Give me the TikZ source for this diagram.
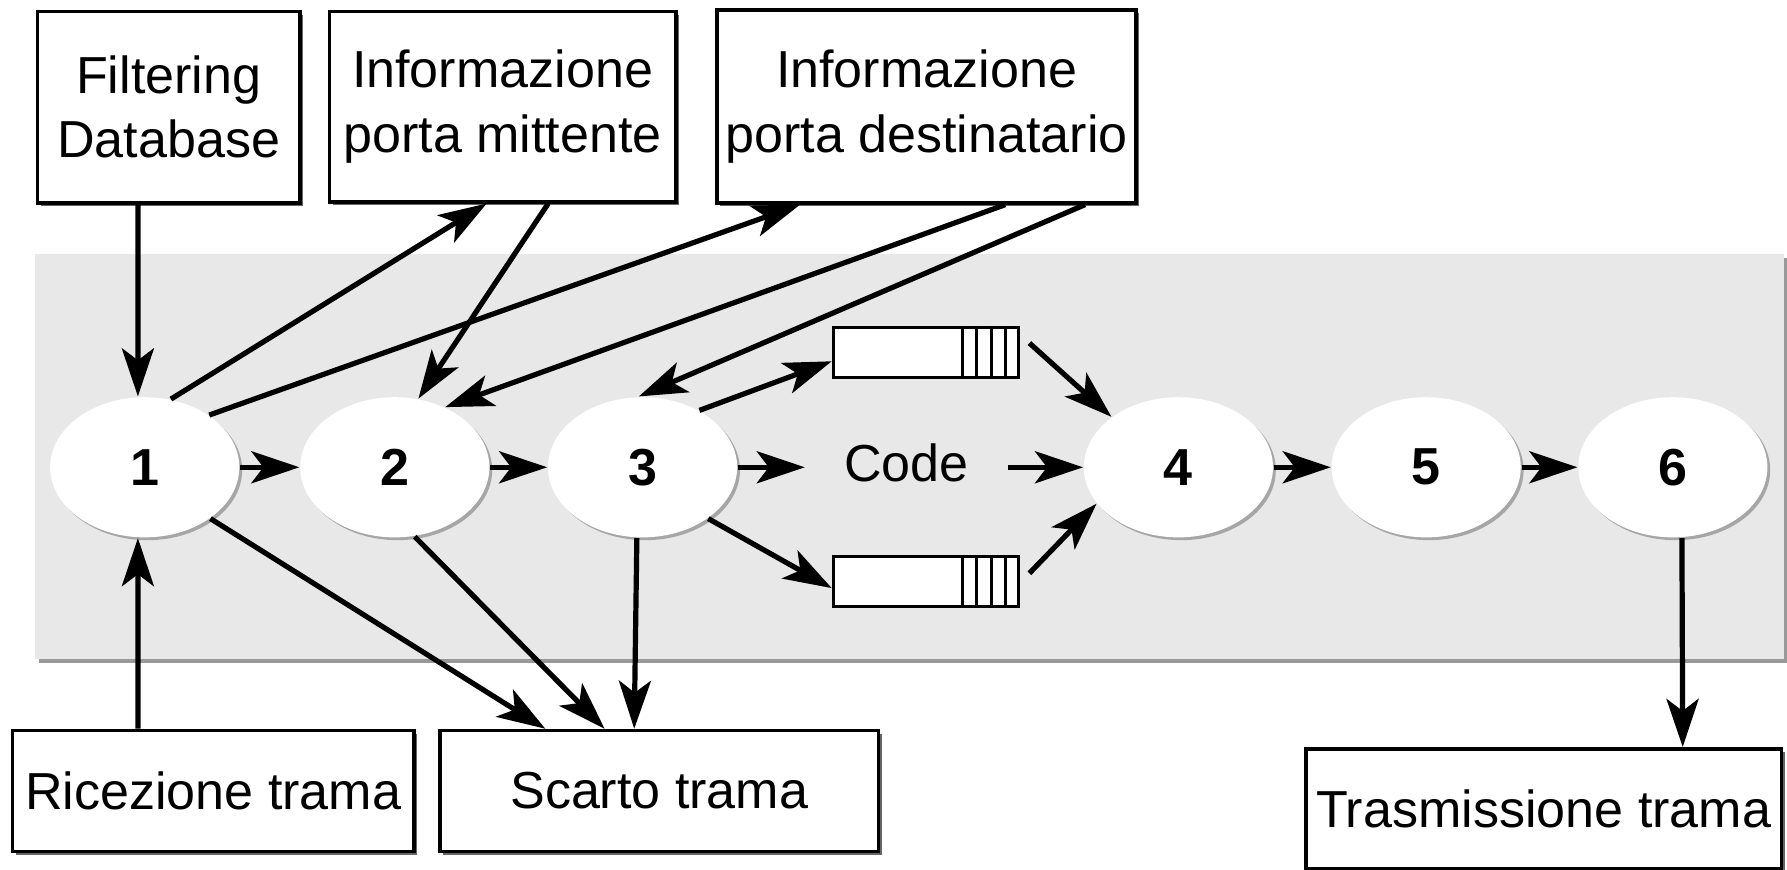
\documentclass[tikz,border=0pt]{standalone}
\usepackage{fontspec}
\setmainfont{Liberation Sans}
\usetikzlibrary{shapes,shadows,arrows.meta,calc,positioning}

\begin{document}
\begin{tikzpicture}[x=0.1mm, y=-0.1mm, font=\fontsize{13}{16}\selectfont,
    box/.style={draw, line width=0.9pt, fill=white, align=center, inner sep=0pt,
      drop shadow={shadow xshift=0.8pt, shadow yshift=-0.8pt, fill=black!60, opacity=1}},
    stage/.style={ellipse, fill=white, inner sep=0pt, minimum width=16.6mm, minimum height=12.3mm,
      font=\fontsize{13}{16}\selectfont\bfseries,
      drop shadow={shadow xshift=0.7pt, shadow yshift=-0.7pt, fill=black!35, opacity=1}},
    queue/.style={draw, line width=0.7pt, fill=white, minimum width=16.3mm, minimum height=4.4mm, inner sep=0pt},
    arr/.style={-{Stealth[length=12pt, width=8pt, inset=3pt]}, line width=1.3pt}]

    \useasboundingbox (0,0) rectangle (1568,763);
    \path[fill=black!9, drop shadow={shadow xshift=1pt, shadow yshift=-1pt, fill=black!40, opacity=1}] (31,223) rectangle (1565,578);

    \node[box, minimum width=23mm, minimum height=16.8mm] (fdb) at (148,94) {Filtering\\Database};
    \node[box, minimum width=30.4mm, minimum height=16.7mm] (mitt) at (441,93.5) {Informazione\\porta mittente};
    \node[box, minimum width=36.8mm, minimum height=16.9mm] (dest) at (813,93.5) {Informazione\\porta destinatario};
    \node[box, minimum width=35.2mm, minimum height=10.6mm] (ric) at (187,694) {Ricezione trama};
    \node[box, minimum width=38.5mm, minimum height=10.6mm] (scarto) at (578.5,694) {Scarto trama};
    \node[box, minimum width=41.7mm, minimum height=10.5mm] (tx) at (1354.5,709.5) {Trasmissione trama};

    \node[stage] (e1) at (127,410) {1};
    \node[stage, right=5.2mm of e1] (e2) {2};
    \node[stage, right=5mm of e2] (e3) {3};
    \node[inner xsep=3.4mm] (code) at (795.5,406) {Code};
    \node[stage] (e4) at (1034,410) {4};
    \node[stage, right=5mm of e4] (e5) {5};
    \node[stage, right=4.9mm of e5] (e6) {6};

    \node[queue] (qtop) at (812.5,309) {};
    \node[queue] (qbot) at (812.5,510) {};
    \foreach \q in {qtop,qbot}
        \foreach \k in {1,...,4}
            \draw[line width=0.7pt] ([xshift={-\k*1.275mm}]\q.north east) -- ([xshift={-\k*1.275mm}]\q.south east);

    \draw[arr] ([xshift=-2.7mm]fdb.south) -- ([xshift=-0.6mm]e1.north);
    \draw[arr] ([xshift=-6.6mm]ric.north) -- ([xshift=-0.6mm]e1.south);
    \draw[arr] (e1) -- (e2);
    \draw[arr] (e2) -- (e3);
    \draw[arr] (e3.east) -- (e3.east -| code.west);
    \draw[arr] (code.east |- e4.west) -- (e4.west);
    \draw[arr] (e4) -- (e5);
    \draw[arr] (e5) -- (e6);

    \draw[arr] (e1.69) -- ([xshift=-1.4mm]mitt.south);
    \draw[arr] (e1.39) -- ([xshift=-11.1mm]dest.south);
    \draw[arr] ([xshift=4mm]mitt.south) -- (e2.71);
    \draw[arr] ([xshift=6.9mm]dest.south) -- (e2.50);
    \draw[arr] ([xshift=13.9mm]dest.south) -- (e3.93);

    \draw[arr] (e3.45) -- ([yshift=-0.8mm]qtop.west);
    \draw[arr] (e3.-38) -- ([yshift=-0.6mm]qbot.west);
    \draw[arr] ([xshift=0.8mm, yshift=0.8mm]qtop.east) -- (e4.143);
    \draw[arr] ([xshift=0.8mm, yshift=0.7mm]qbot.east) -- (e4.204);

    \draw[arr] (e1.-38) -- ([xshift=-10mm]scarto.north);
    \draw[arr] (e2.-74) -- ([xshift=-4.8mm]scarto.north);
    \draw[arr] ([xshift=-0.5mm]e3.south) -- ([xshift=-2.2mm]scarto.north);
    \draw[arr] ([xshift=0.8mm]e6.south) -- ([xshift=12.2mm]tx.north);
\end{tikzpicture}
\end{document}
